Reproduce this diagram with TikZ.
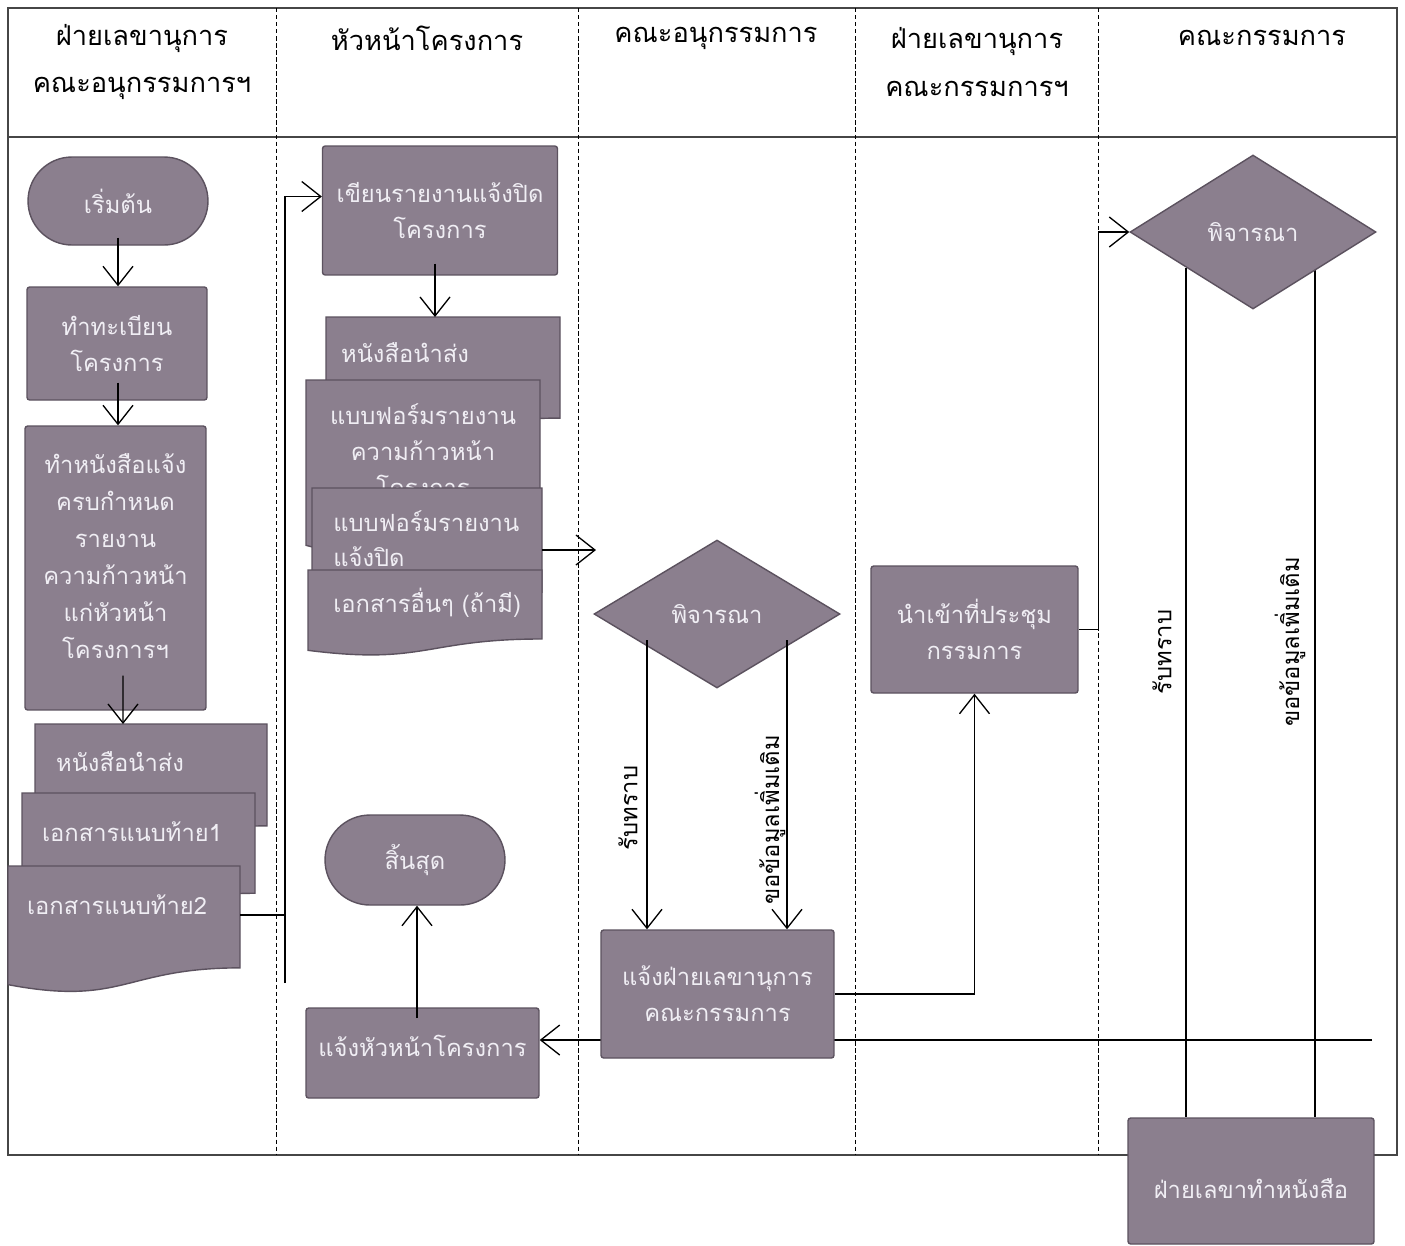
\documentclass[tikz,border=0pt]{standalone}
\usepackage{fontspec}
\newfontfamily\thaifont[Script=Thai]{Loma}
\usetikzlibrary{shapes.geometric,shapes.misc,arrows.meta,calc}
\definecolor{boxfill}{RGB}{139,127,142}
\definecolor{boxedge}{RGB}{92,82,95}
\definecolor{boxtext}{RGB}{240,238,244}
\definecolor{framecol}{RGB}{70,70,70}
\pgfdeclarelayer{bg}
\pgfsetlayers{bg,main}
\newcommand{\docshape}[4]{%
  \pgfmathsetmacro\dxa{#1}\pgfmathsetmacro\dxb{#1+#3}\pgfmathsetmacro\dxm{#1+0.5*#3}%
  \pgfmathsetmacro\dya{#2}\pgfmathsetmacro\dyr{#2+0.802*#4}\pgfmathsetmacro\dyl{#2+0.934*#4}\pgfmathsetmacro\dyc{#2+1.107*#4}%
  \filldraw[docst] (\dxa,\dya) -- (\dxb,\dya) -- (\dxb,\dyr) .. controls (\dxm,\dyr) and (\dxm,\dyc) .. (\dxa,\dyl) -- cycle;}
\tikzset{
  boxbase/.style={fill=boxfill, draw=boxedge, line width=0.8pt, text=boxtext,
    font={\thaifont\fontsize{13.5}{20.5}\selectfont}, align=center, inner sep=0pt},
  procbox/.style={boxbase, rectangle, rounded corners=1.5pt},
  termbox/.style={boxbase, rounded rectangle},
  decbox/.style={boxbase, diamond},
  docst/.style={fill=boxfill, draw=boxedge, line width=0.8pt},
  doctext/.style={text=boxtext, font={\thaifont\fontsize{13.5}{20}\selectfont}, inner sep=0pt},
  lbl/.style={text=black, font={\thaifont\fontsize{13.5}{16}\selectfont}, inner sep=0pt},
  head/.style={text=black, font={\thaifont\fontsize{15.5}{27}\selectfont}, align=center, inner sep=0pt},
  conn/.style={draw=black, line width=0.75pt},
  arr/.style={conn, -{Straight Barb[length=0.38cm,width=0.6cm,line width=0.75pt]}},
  frame/.style={draw=framecol, line width=1.1pt},
  lanesep/.style={draw=black, line width=0.45pt, dash pattern=on 2.5pt off 1.5pt}
}
\begin{document}
\begin{tikzpicture}[x=0.02cm,y=-0.02cm]
\useasboundingbox (0,0) rectangle (1405,1245);

% headers
\node[head] (h1) at (142,62) {ฝ่ายเลขานุการ\\คณะอนุกรรมการฯ};
\node[head] (h2) at (427,38) {หัวหน้าโครงการ};
\node[head] (h3) at (716,38) {คณะอนุกรรมการ};
\node[head] (h4) at (977,62) {ฝ่ายเลขานุการ\\คณะกรรมการฯ};
\node[head] (h5) at (1262,38) {คณะกรรมการ};

% lane 1
\node[termbox, minimum width=3.6cm, minimum height=1.76cm] (s1) at (118,201) {เริ่มต้น};
\node[procbox, minimum width=3.6cm, minimum height=2.26cm] (b12) at (117,343.5) {ทำทะเบียน\\โครงการ};
\node[procbox, minimum width=3.62cm, minimum height=5.68cm] (b13) at (115.5,568) {};
\node[text=boxtext, font={\thaifont\fontsize{13.5}{21}\selectfont}, align=center, inner sep=0pt] (b13t) at (115.5,556) {ทำหนังสือแจ้ง\\ครบกำหนด\\รายงาน\\ความก้าวหน้า\\แก่หัวหน้า\\โครงการฯ};
\docshape{35}{724}{232}{127}
\node[doctext] (t11) at (120,762) {หนังสือนำส่ง};
\docshape{22}{793}{233}{125}
\node[doctext] (t12) at (132,832) {เอกสารแนบท้าย1};
\docshape{8}{866}{232}{127}
\node[doctext] (t13) at (117,905) {เอกสารแนบท้าย2};
\coordinate (D1n) at (123,724);
\coordinate (D3e) at (240,915);
\coordinate (v1bot) at (285,983);

% lane 2
\node[procbox, minimum width=4.7cm, minimum height=2.58cm] (b21) at (440,210.5) {เขียนรายงานแจ้งปิด\\โครงการ};
\docshape{326}{317}{234}{126}
\node[doctext] (t21) at (405,353) {หนังสือนำส่ง};
\docshape{306}{380}{234}{177}
\node[doctext, align=center, font={\thaifont\fontsize{13.5}{20.5}\selectfont}, anchor=north] (t22) at (423,403) {แบบฟอร์มรายงาน\\ความก้าวหน้า\\โครงการ};
\docshape{312}{488}{230}{130}
\node[doctext, align=left, anchor=north west] (t23) at (333,510) {แบบฟอร์มรายงาน\\แจ้งปิด};
\docshape{308}{570}{234}{86}
\node[doctext, anchor=west] (t24) at (333,603) {เอกสารอื่นๆ (ถ้ามี)};
\coordinate (E1n) at (435,317);
\coordinate (E3e) at (542,550);
\coordinate (a3end) at (596,550);
\node[termbox, minimum width=3.6cm, minimum height=1.8cm] (t2end) at (415,860) {สิ้นสุด};
\node[procbox, minimum width=4.66cm, minimum height=1.8cm] (b23) at (422.5,1053) {};
\node[text=boxtext, font={\thaifont\fontsize{13.5}{20}\selectfont}, inner sep=0pt] (b23t) at (422.5,1046) {แจ้งหัวหน้าโครงการ};
\coordinate (b23in) at (417,1018);

% lane 3
\node[decbox, minimum width=4.92cm, minimum height=2.96cm] (d31) at (717,614) {พิจารณา};
\node[procbox, minimum width=4.66cm, minimum height=2.56cm] (b32) at (717.5,994) {แจ้งฝ่ายเลขานุการ\\คณะกรรมการ};
\coordinate (d31l) at (647,640);
\coordinate (d31r) at (787,640);
\node[lbl, rotate=90] (l31) at (628,808) {รับทราบ};
\node[lbl, rotate=90] (l32) at (770,820) {ขอข้อมูลเพิ่มเติม};

% lane 4
\node[procbox, minimum width=4.14cm, minimum height=2.54cm] (b41) at (974.5,629.5) {นำเข้าที่ประชุม\\กรรมการ};

% lane 5
\node[decbox, minimum width=4.92cm, minimum height=3.08cm] (d51) at (1253,232) {พิจารณา};
\node[procbox, minimum width=4.92cm, minimum height=2.52cm] (b52) at (1251,1181) {};
\node[text=boxtext, font={\thaifont\fontsize{13.5}{20}\selectfont}, inner sep=0pt] (b52t) at (1251,1189) {ฝ่ายเลขาทำหนังสือ};
\coordinate (d51l) at (1186,268);
\coordinate (d51r) at (1315,268);
\coordinate (ret) at (1372,1040);
\node[lbl, rotate=90] (l51) at (1162,652) {รับทราบ};
\node[lbl, rotate=90] (l52) at (1290,642) {ขอข้อมูลเพิ่มเติม};

% background: frame, lanes, lines passing behind shapes
\begin{pgfonlayer}{bg}
\fill[white] (0,0) rectangle (1405,1245);
\draw[frame] (8,8) rectangle (1397,1155);
\draw[frame] (8,137) -- (1397,137);
\foreach \xx in {276,578,855,1098} \draw[lanesep] (\xx,8) -- (\xx,1155);
\draw[arr] (ret) -- (ret -| b23.east);
\draw[conn] (d51l) -- (d51l |- b52.north);
\draw[conn] (d51r) -- (d51r |- b52.north);
\end{pgfonlayer}

% connectors on top
\draw[arr] ($(s1.south)+(0,-8)$) -- (s1.south |- b12.north);
\draw[arr] ($(b12.south)+(1,-18)$) -- ($(b12.south |- b13.north)+(1,0)$);
\draw[arr] ($(b13.south)+(7.5,-35)$) -- (D1n);
\draw[conn] (D3e) -- (D3e -| v1bot);
\draw[arr] (v1bot) |- ($(b21.west)+(0,-14)$);
\draw[arr] ($(b21.south)+(-5,-12)$) -- (E1n);
\draw[arr] (E3e) -- (a3end);
\draw[arr] (d31l) -- (d31l |- b32.north);
\draw[arr] (d31r) -- (d31r |- b32.north);
\draw[arr] (b32.east) -| (b41.south);
\draw[arr] (b41.east) -- ++(20,0) |- (d51.west);
\draw[arr] (b23in) -- (b23in |- t2end.south);
\end{tikzpicture}
\end{document}
